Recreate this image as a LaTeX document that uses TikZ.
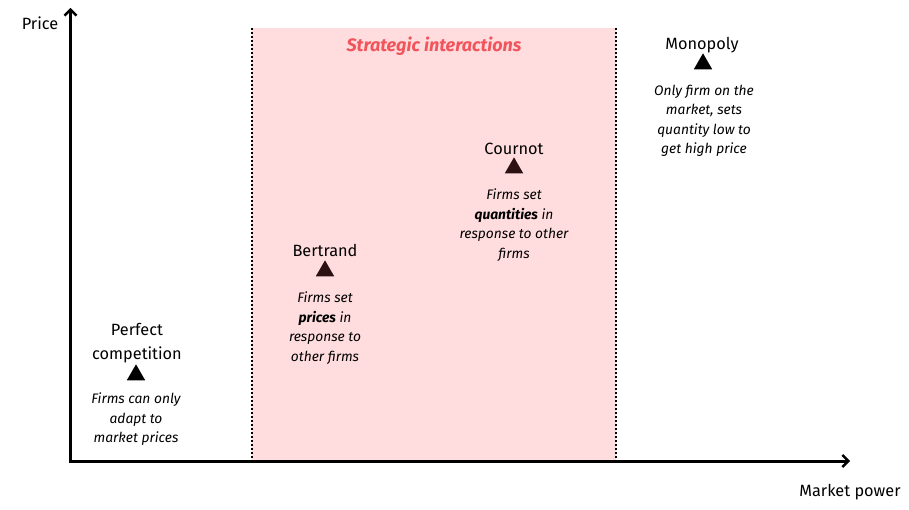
\documentclass[tikz,border=0pt]{standalone}
\usepackage{fontspec}
\setmainfont{Fira Sans}
\usetikzlibrary{arrows.meta,shapes.geometric}
\definecolor{zonefill}{HTML}{FFDDDF}
\definecolor{zonetitle}{HTML}{F2545B}
\definecolor{darktri}{HTML}{2B1111}
\tikzset{
  axis/.style={line width=3pt,-{Straight Barb[length=6pt,width=12pt,line width=2.4pt]}},
  lbl/.style={font=\fontsize{16.3}{24}\selectfont,align=center,inner sep=0pt},
  desc/.style={font=\fontsize{13.8}{19.6}\selectfont\itshape,align=center,inner sep=0pt,anchor=north},
  tri/.style={isosceles triangle,isosceles triangle apex angle=60,shape border rotate=90,minimum height=16pt,minimum width=18pt,inner sep=0pt,draw=none},
  zoneline/.style={line width=1.6pt,dash pattern=on 1.6pt off 2.4pt},
}
\begin{document}
\begin{tikzpicture}[x=1pt,y=-1pt]
\useasboundingbox (0,0) rectangle (909,510);
\fill[zonefill] (252,28) rectangle (616,461);
\coordinate (zl1) at (252,28); \coordinate (zl2) at (252,461);
\coordinate (zr1) at (616,28); \coordinate (zr2) at (616,461);
\draw[zoneline] (zl1) -- (zl2);
\draw[zoneline] (zr1) -- (zr2);
\node[text=zonetitle,font=\fontsize{18}{21}\selectfont\bfseries\itshape] (ztitle) at (434,46) {Strategic interactions};
% axes
\coordinate (o) at (70.5,461);
\coordinate (ytop) at (70.5,8);
\coordinate (xend) at (850,461);
\draw[axis] (o) ++(0,1.5) -- (ytop);
\draw[axis] (o) ++(-1.5,0) -- (xend);
\node[lbl,anchor=center] (price) at (40,23) {Price};
\node[lbl,anchor=center] (mpower) at (850,492) {Market power};
% perfect competition
\node[lbl] (pc) at (137,343) {Perfect\\competition};
\node[tri,fill=black] (pctri) at (136,375) {};
\node[desc] (pcd) at (136,392.5) {Firms can only\\adapt to\\market prices};
% Bertrand
\node[lbl] (be) at (325,250.5) {Bertrand};
\node[tri,fill=darktri] (betri) at (325,271) {};
\node[desc] (bed) at (325,291.5) {Firms set\\\textbf{prices} in\\response to\\other firms};
% Cournot
\node[lbl] (co) at (514,148.5) {Cournot};
\node[tri,fill=darktri] (cotri) at (514,168) {};
\node[desc] (cod) at (514,188.5) {Firms set\\\textbf{quantities} in\\response to other\\firms};
% Monopoly
\node[lbl] (mo) at (702,45.5) {Monopoly};
\node[tri,fill=black] (motri) at (703,64) {};
\node[desc] (mod) at (704,84.5) {Only firm on the\\market, sets\\quantity low to\\get high price};
\end{tikzpicture}
\end{document}
